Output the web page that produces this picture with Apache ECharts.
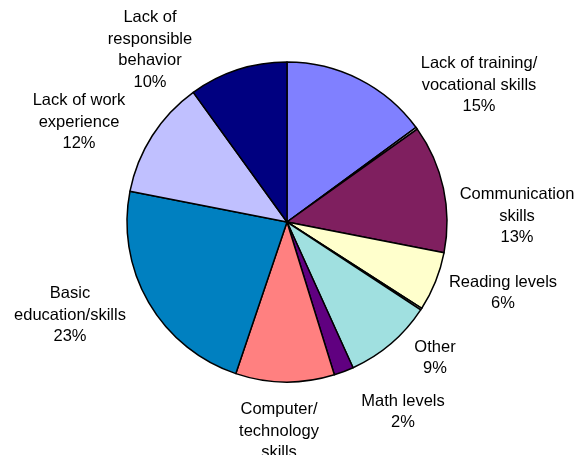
<!DOCTYPE html>
<html>
<head>
<meta charset="utf-8">
<script src="https://cdn.jsdelivr.net/npm/echarts@6/dist/echarts.min.js"></script>
<style>
  html, body { margin: 0; padding: 0; background: #fff; }
  #chart { width: 579px; height: 455px; }
</style>
</head>
<body>
<div id="chart"></div>
<script>
// Reasons cited, clockwise from 12 o'clock; the two unnamed entries are
// near-zero slivers that carry no label.
const categories = [
  'Lack of training/\nvocational skills',
  '',
  'Communication\nskills',
  'Reading levels',
  '',
  'Other',
  'Math levels',
  'Computer/\ntechnology\nskills',
  'Basic\neducation/skills',
  'Lack of work\nexperience',
  'Lack of\nresponsible\nbehavior'
];
const shares = [15, 0.2, 13, 6, 0.2, 9, 2, 10, 23, 12, 10];

const sliceColors = [
  '#8080FF', '#E8E8E8', '#7F1F5F', '#FFFFCC', '#E8E8E8', '#A0E0E0',
  '#600080', '#FF8080', '#0080C0', '#C0C0FF', '#000080'
];
// Centre point of each label block (pixels)
const labelAnchors = [
  [479, 85], null, [517, 216], [503, 293], null, [435, 358],
  [403, 412], [279, 442], [70, 315], [79, 122], [150, 50]
];

const chart = echarts.init(document.getElementById('chart'), null, { renderer: 'canvas' });

const data = categories.map((name, i) => ({
  name: name,
  value: shares[i],
  itemStyle: { color: sliceColors[i] },
  label: { show: name !== '' }
}));

chart.setOption({
  animation: false,
  backgroundColor: '#ffffff',
  series: [{
    type: 'pie',
    center: [287, 222],
    radius: [0, 160],
    startAngle: 90,
    clockwise: true,
    avoidLabelOverlap: false,
    itemStyle: { borderColor: '#000000', borderWidth: 1.5 },
    label: {
      position: 'outside',
      formatter: p => p.name + '\n' + p.value + '%',
      fontFamily: '"Liberation Sans", Arial, sans-serif',
      fontSize: 16.5,
      lineHeight: 21.5,
      color: '#000000',
      align: 'center'
    },
    labelLine: { show: false },
    labelLayout: p => {
      const a = labelAnchors[p.dataIndex];
      if (!a) return {};
      return { x: a[0], y: a[1], align: 'center', verticalAlign: 'middle' };
    },
    emphasis: { disabled: true },
    data: data
  }]
});
</script>
</body>
</html>
